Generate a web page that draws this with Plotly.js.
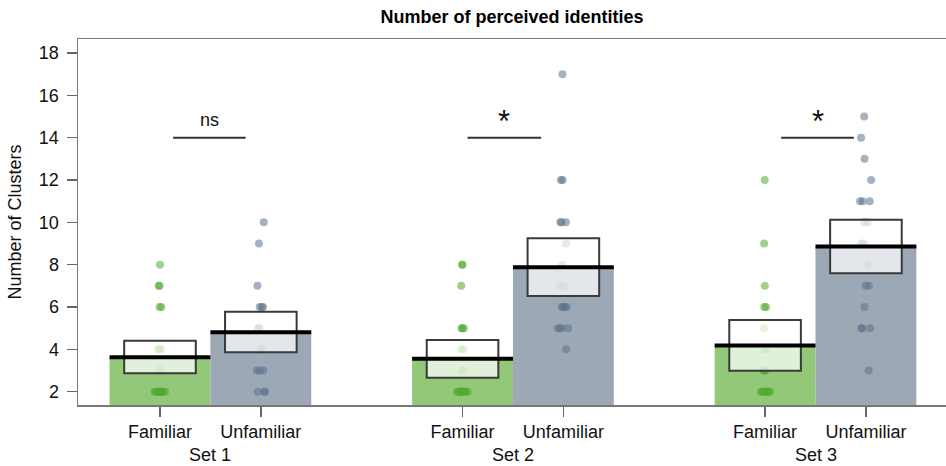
<!DOCTYPE html>
<html><head><meta charset="utf-8">
<script src="https://cdn.plot.ly/plotly-3.0.1.min.js"></script>
<style>html,body{margin:0;padding:0;background:#fff}#chart{width:946px;height:466px}</style>
</head><body><div id="chart"></div>
<script>
// ---- data ----
const sets = ["Set 1", "Set 2", "Set 3"];
const groups = ["Familiar", "Unfamiliar"];
const meansFamiliar = [3.63, 3.55, 4.18];
const meansUnfamiliar = [4.81, 7.88, 8.86];
const ciLowFamiliar = [2.87, 2.66, 2.99];
const ciHighFamiliar = [4.41, 4.44, 5.39];
const ciLowUnfamiliar = [3.86, 6.52, 7.60];
const ciHighUnfamiliar = [5.78, 9.25, 10.12];
const set1Familiar = [8, 7, 7, 6, 6, 4, 4, 4, 3, 3, 2, 2, 2, 2, 2, 2, 2, 2, 2, 2];
const set1Unfamiliar = [10, 9, 7, 6, 6, 6, 5, 5, 4, 4, 3, 3, 3, 2, 2, 2];
const set2Familiar = [8, 8, 7, 5, 5, 5, 4, 4, 3, 3, 2, 2, 2, 2, 2, 2, 2, 2, 2, 2];
const set2Unfamiliar = [17, 12, 12, 10, 10, 10, 9, 8, 7, 7, 6, 6, 6, 6, 5, 5, 5, 5, 4];
const set3Familiar = [12, 9, 7, 6, 6, 5, 4, 4, 3, 3, 3, 2, 2, 2, 2, 2, 2, 2, 2];
const set3Unfamiliar = [15, 14, 13, 12, 11, 11, 11, 10, 10, 9, 9, 8, 7, 7, 6, 5, 5, 5, 3];
const sigLabels = ["ns", "*", "*"];
const sigY = [14, 14, 14];
const sigStart = [1.13, 4.05, 7.16];
const sigEnd = [1.85, 4.78, 7.88];
const yTicks = [2, 4, 6, 8, 10, 12, 14, 16, 18];

// ---- styling ----
const barColors = ["#93c879", "#9ca8b6"];
const pointColors = ["rgba(80,170,50,0.55)", "rgba(95,115,140,0.55)"];
const font = "Liberation Sans, Arial, Helvetica, sans-serif";

const means = [meansFamiliar, meansUnfamiliar];
const ciLow = [ciLowFamiliar, ciLowUnfamiliar];
const ciHigh = [ciHighFamiliar, ciHighUnfamiliar];
const rawPoints = [[set1Familiar, set1Unfamiliar], [set2Familiar, set2Unfamiliar], [set3Familiar, set3Unfamiliar]];

// position of each bar: groups adjacent, one empty slot between sets
const pos = (s, g) => s * 3 + g + 1;

const traces = [];
groups.forEach((g, gi) => {
  traces.push({
    type: "bar",
    x: sets.map((_, si) => pos(si, gi)),
    y: means[gi],
    width: 1,
    marker: { color: barColors[gi], line: { width: 0 } },
    hoverinfo: "skip",
    showlegend: false
  });
});
sets.forEach((s, si) => {
  groups.forEach((g, gi) => {
    traces.push({
      type: "box",
      x0: pos(si, gi),
      y: rawPoints[si][gi],
      boxpoints: "all",
      jitter: 0.13,
      pointpos: 0,
      width: 1,
      fillcolor: "rgba(0,0,0,0)",
      line: { width: 0, color: "rgba(0,0,0,0)" },
      marker: { color: pointColors[gi], size: 8, line: { width: 0 } },
      hoverinfo: "skip",
      showlegend: false
    });
  });
});

const shapes = [];
const annotations = [];
sets.forEach((s, si) => {
  groups.forEach((g, gi) => {
    const p = pos(si, gi);
    shapes.push({
      type: "rect", xref: "x", yref: "y", layer: "above",
      x0: p - 0.355, x1: p + 0.355, y0: ciLow[gi][si], y1: ciHigh[gi][si],
      fillcolor: "rgba(255,255,255,0.72)",
      line: { color: "#3a3a3a", width: 2 }
    });
    shapes.push({
      type: "line", xref: "x", yref: "y", layer: "above",
      x0: p - 0.5, x1: p + 0.5, y0: means[gi][si], y1: means[gi][si],
      line: { color: "#000", width: 4 }
    });
  });
  shapes.push({
    type: "line", xref: "x", yref: "y", layer: "above",
    x0: sigStart[si], x1: sigEnd[si], y0: sigY[si], y1: sigY[si],
    line: { color: "#333", width: 2 }
  });
  const star = sigLabels[si] === "*";
  annotations.push({
    xref: "x", yref: "y", x: (sigStart[si] + sigEnd[si]) / 2, y: sigY[si],
    text: sigLabels[si], showarrow: false, xanchor: "center", yanchor: "bottom",
    yshift: star ? -3 : 6,
    font: { family: font, size: star ? 31 : 18, color: "#111" }
  });
  annotations.push({
    xref: "x", yref: "paper", x: pos(si, 0) + 0.5, y: 0,
    text: s, showarrow: false, xanchor: "center", yanchor: "middle", yshift: -50,
    font: { family: font, size: 18, color: "#111" }
  });
});

const tickPos = [];
const tickText = [];
sets.forEach((s, si) => groups.forEach((g, gi) => { tickPos.push(pos(si, gi)); tickText.push(g); }));

const layout = {
  width: 946, height: 466,
  margin: { l: 78, r: 0, t: 39, b: 61 },
  paper_bgcolor: "#fff", plot_bgcolor: "#fff",
  font: { family: font, size: 18, color: "#111" },
  title: {
    text: "<b>Number of perceived identities</b>",
    font: { family: font, size: 18, color: "#000" },
    xref: "paper", x: 0.5, xanchor: "center",
    yref: "container", y: 0.965, yanchor: "middle"
  },
  barmode: "overlay",
  boxmode: "overlay",
  xaxis: {
    range: [0.187, 8.794],
    tickmode: "array", tickvals: tickPos, ticktext: tickText,
    ticks: "outside", ticklen: 10, tickwidth: 1.5, tickcolor: "#666",
    showline: true, linecolor: "#777", linewidth: 1.5, mirror: true,
    showgrid: false, zeroline: false,
    tickfont: { family: font, size: 18, color: "#111" }
  },
  yaxis: {
    range: [1.371, 18.66],
    tickmode: "array", tickvals: yTicks,
    ticks: "outside", ticklen: 10, tickwidth: 1.5, tickcolor: "#666",
    ticklabelstandoff: 4,
    showline: true, linecolor: "#777", linewidth: 1.5,
    showgrid: false, zeroline: false,
    tickfont: { family: font, size: 18, color: "#111" },
    title: { text: "Number of Clusters", font: { family: font, size: 18, color: "#111" }, standoff: 12 }
  },
  shapes: shapes,
  annotations: annotations
};

Plotly.newPlot("chart", traces, layout, { displayModeBar: false, staticPlot: true });
</script>
</body></html>
